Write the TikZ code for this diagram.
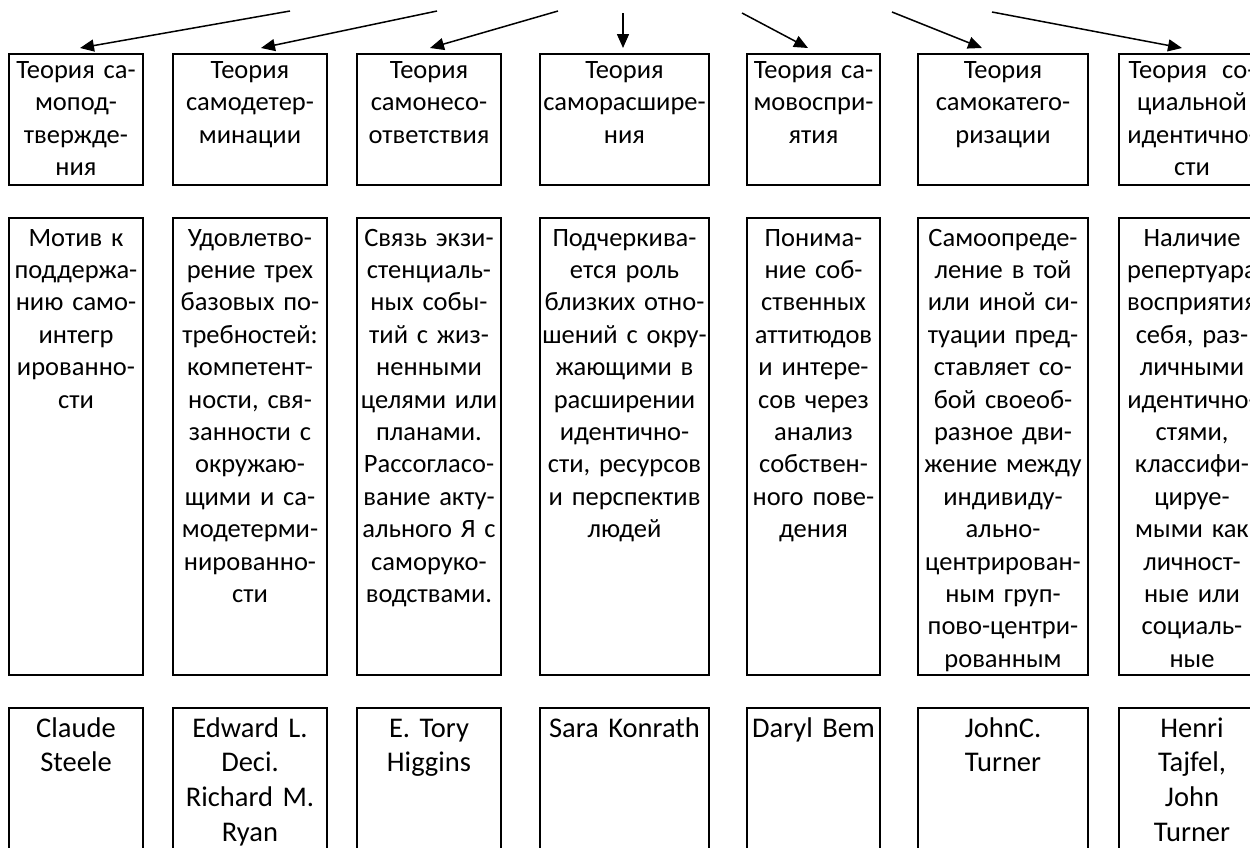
\documentclass[tikz,border=0pt]{standalone}
\usepackage{fontspec}
\setmainfont{Carlito}
\usetikzlibrary{arrows.meta}
\begin{document}
\begin{tikzpicture}[x=1pt,y=-1pt,
  cell/.style={draw=black, line width=2pt, rectangle, inner sep=0pt, outer sep=0pt, anchor=north west},
  ru/.style={anchor=base, inner sep=0pt, text width=300pt, align=center, font=\fontsize{26.5}{32.4}\selectfont},
  en/.style={anchor=base, inner sep=0pt, text width=300pt, align=center, font=\fontsize{28.5}{34.8}\selectfont},
  link/.style={line width=1.5pt, -{Triangle[length=14pt,width=12pt]}}]
\clip (0,0) rectangle (1250,847);
\fill[white] (0,0) rectangle (1250,847);

% three rows of cells, seven columns
\foreach \i/\xl/\w in {1/9/134, 2/173/154, 3/357/144, 4/540/169, 5/747/133, 6/918/170, 7/1119/146}{
  \node[cell, minimum width=\w pt, minimum height=131pt] (h\i) at (\xl,54) {};
  \node[cell, minimum width=\w pt, minimum height=457pt] (m\i) at (\xl,218) {};
  \node[cell, minimum width=\w pt, minimum height=170pt] (n\i) at (\xl,708) {};
}

% theory names
\node[ru] (h1t) at (76,78.5) {Теория са-\\мопод-\\твержде-\\ния};
\node[ru] (h2t) at (250,78.5) {Теория\\самодетер-\\минации};
\node[ru] (h3t) at (429,78.5) {Теория\\самонесо-\\ответствия};
\node[ru] (h4t) at (624.5,78.5) {Теория\\саморасшире-\\ния};
\node[ru] (h5t) at (813.5,78.5) {Теория са-\\мовоспри-\\ятия};
\node[ru] (h6t) at (1003,78.5) {Теория\\самокатего-\\ризации};
\node[ru] (h7t) at (1192,78.5) {Теория\hspace{15pt}со-\\циальной\\идентично-\\сти};

% descriptions
\node[ru] (m1t) at (76,246) {Мотив к\\поддержа-\\нию само-\\интегр\\ированно-\\сти};
\node[ru] (m2t) at (250,246) {Удовлетво-\\рение трех\\базовых по-\\требностей:\\компетент-\\ности, свя-\\занности с\\окружаю-\\щими и са-\\модетерми-\\нированно-\\сти};
\node[ru] (m3t) at (429,246) {Связь экзи-\\стенциаль-\\ных собы-\\тий с жиз-\\ненными\\целями или\\планами.\\Рассогласо-\\вание акту-\\ального Я с\\саморуко-\\водствами.};
\node[ru] (m4t) at (624.5,246) {Подчеркива-\\ется роль\\близких отно-\\шений с окру-\\жающими в\\расширении\\идентично-\\сти, ресурсов\\и перспектив\\людей};
\node[ru] (m5t) at (813.5,246) {Понима-\\ние соб-\\ственных\\аттитюдов\\и интере-\\сов через\\анализ\\собствен-\\ного пове-\\дения};
\node[ru] (m6t) at (1003,246) {Самоопреде-\\ление в той\\или иной си-\\туации пред-\\ставляет со-\\бой своеоб-\\разное дви-\\жение между\\индивиду-\\ально-\\центрирован-\\ным груп-\\пово-центри-\\рованным};
\node[ru] (m7t) at (1192,246) {Наличие\\репертуара\\восприятия\\себя, раз-\\личными\\идентично-\\стями,\\классифи-\\цируе-\\мыми как\\личност-\\ные или\\социаль-\\ные};

% authors
\node[en] (n1t) at (76,737) {Claude\\Steele};
\node[en] (n2t) at (250,737) {Edward L.\\Deci.\\Richard M.\\Ryan};
\node[en] (n3t) at (429,737) {E. Tory\\Higgins};
\node[en] (n4t) at (624.5,737) {Sara Konrath};
\node[en] (n5t) at (813.5,737) {Daryl Bem};
\node[en] (n6t) at (1003,737) {JohnC.\\Turner};
\node[en] (n7t) at (1192,737) {Henri\\Tajfel,\\John\\Turner};

% arrows fanning out from the heading
\coordinate (s1) at (290,11);   \coordinate (e1) at (80,48);
\coordinate (s2) at (437,11);   \coordinate (e2) at (261,48);
\coordinate (s3) at (558,11);   \coordinate (e3) at (430,48);
\coordinate (s4) at (623,13);   \coordinate (e4) at (623,48);
\coordinate (s5) at (742,13);   \coordinate (e5) at (808,48);
\coordinate (s6) at (892,12);   \coordinate (e6) at (982,48);
\coordinate (s7) at (992,12);   \coordinate (e7) at (1182,48);
\foreach \k in {1,...,7}{ \draw[link] (s\k) -- (e\k); }
\end{tikzpicture}
\end{document}
